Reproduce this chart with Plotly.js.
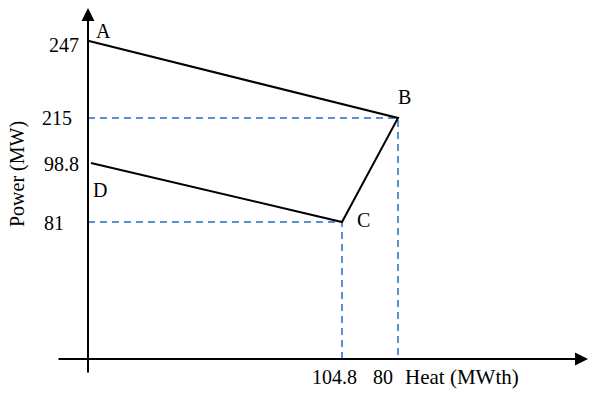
<!DOCTYPE html>
<html>
<head>
<meta charset="utf-8">
<script src="https://cdn.plot.ly/plotly-3.0.1.min.js"></script>
<style>html,body{margin:0;padding:0;background:#fff;}#chart{width:592px;height:394px;}</style>
</head>
<body>
<div id="chart"></div>
<script>
// Operating region points (schematic, not to scale)
const pointNames = ['A', 'B', 'C', 'D'];
const powerMW = ['247', '215', '81', '98.8'];      // labelled power values
const heatMWth = ['', '80', '104.8', ''];          // labelled heat values
// positions of the points as drawn in the schematic (drawing units)
const drawnHeat = [1, 310, 254, 3];
const drawnPower = [318, 241, 137, 196];
const axisTitles = { x: 'Heat (MWth)', y: 'Power (MW)' };

const FONT = { family: '"Liberation Serif", "Times New Roman", serif', size: 20, color: '#000' };
const BLUE = '#5B8FD8';

const traces = [];
// dashed guides from B and C to the axes
[1, 2].forEach(i => {
  traces.push({
    x: [0, drawnHeat[i], drawnHeat[i]],
    y: [drawnPower[i], drawnPower[i], 0],
    mode: 'lines', hoverinfo: 'skip',
    line: { color: BLUE, width: 2, dash: '7px,5px' }
  });
});
// boundary A-B-C-D
traces.push({
  x: drawnHeat, y: drawnPower, mode: 'lines', hoverinfo: 'skip',
  line: { color: '#000', width: 2 }
});

const ann = [];
// axes with arrows
ann.push({ x: 0, y: 351, ax: 0, ay: -15, xref: 'x', yref: 'y', axref: 'x', ayref: 'y',
  showarrow: true, arrowhead: 2, arrowsize: 1.3, arrowwidth: 2, arrowcolor: '#000', text: '' });
ann.push({ x: 500, y: 0, ax: -31, ay: 0, xref: 'x', yref: 'y', axref: 'x', ayref: 'y',
  showarrow: true, arrowhead: 2, arrowsize: 1.3, arrowwidth: 2, arrowcolor: '#000', text: '' });

// point letters
const letterOffsets = [[14, 10], [6, 21], [21, 2], [9, -27]];
pointNames.forEach((n, i) => {
  ann.push({ x: drawnHeat[i] + letterOffsets[i][0], y: drawnPower[i] + letterOffsets[i][1],
    xref: 'x', yref: 'y', text: n, showarrow: false, font: FONT });
});
// power value labels on the y axis
const powerLabelX = [-24, -31, -34, -27];
const powerLabelDy = [-4, 0, -1, -1];
[0, 1, 2, 3].forEach(i => {
  ann.push({ x: powerLabelX[i], y: drawnPower[i] + powerLabelDy[i], xref: 'x', yref: 'y',
    text: powerMW[i], showarrow: false, font: FONT });
});
// heat value labels on the x axis
const heatLabelX = [0, 295, 246, 0];
[1, 2].forEach(i => {
  ann.push({ x: heatLabelX[i], y: -18, xref: 'x', yref: 'y',
    text: heatMWth[i], showarrow: false, font: FONT });
});
// axis titles
ann.push({ x: 374, y: -18, xref: 'x', yref: 'y', text: axisTitles.x, showarrow: false,
  font: Object.assign({}, FONT, { size: 21 }) });
ann.push({ x: -71, y: 185, xref: 'x', yref: 'y', text: axisTitles.y, showarrow: false, font: FONT, textangle: -90 });

const layout = {
  width: 592, height: 394,
  margin: { l: 0, r: 0, t: 0, b: 0 },
  paper_bgcolor: '#fff', plot_bgcolor: '#fff',
  showlegend: false,
  xaxis: { range: [-88, 504], visible: false, fixedrange: true },
  yaxis: { range: [-35, 359], visible: false, fixedrange: true },
  annotations: ann
};
Plotly.newPlot('chart', traces, layout, { displayModeBar: false, staticPlot: true });
</script>
</body>
</html>
